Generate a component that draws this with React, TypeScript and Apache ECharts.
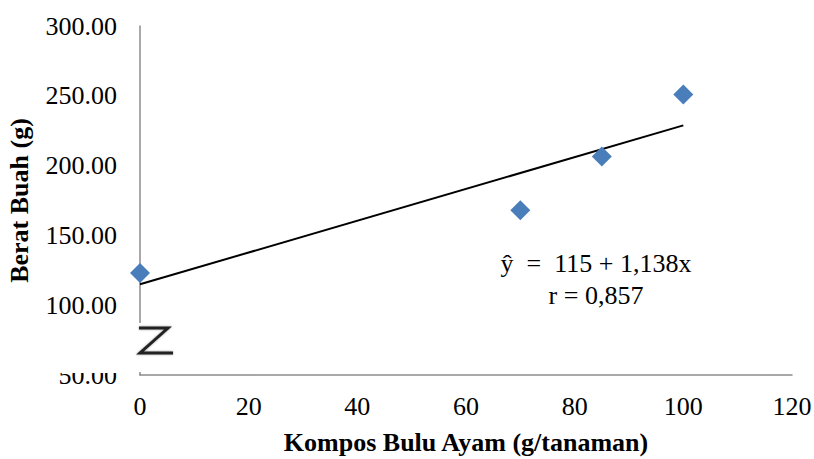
import React, { useEffect, useRef } from "react";
import * as echarts from "echarts";

const doses = [0, 70, 85, 100];
const weights = [123, 168, 206.5, 251];
const intercept = 115;
const slope = 1.138;
const trendX = [0, 100];
const yTicks = { min: 50, max: 300, interval: 50 };
const xTicks = { min: 0, max: 120, interval: 20 };
const equationText = "ŷ\u00a0\u00a0=\u00a0\u00a0115 + 1,138x";
const rText = "r = 0,857";

const FONT = "Liberation Serif";

export default function App() {
  const ref = useRef<HTMLDivElement>(null);
  useEffect(() => {
    if (!ref.current) return;
    const chart = echarts.init(ref.current, undefined, { renderer: "svg" });
    const trend = trendX.map((x) => [x, +(intercept + slope * x).toFixed(3)]);
    chart.setOption({
      animation: false,
      backgroundColor: "#ffffff",
      textStyle: { fontFamily: FONT },
      grid: { left: 140, right: 22, top: 26, bottom: 84, containLabel: false, outerBoundsMode: "none" },
      xAxis: {
        type: "value",
        min: xTicks.min,
        max: xTicks.max,
        interval: xTicks.interval,
        name: "Kompos Bulu Ayam (g/tanaman)",
        nameLocation: "middle",
        nameGap: 54,
        nameTextStyle: { fontFamily: FONT, fontSize: 26, fontWeight: "bold", color: "#000" },
        axisLine: { show: true, lineStyle: { color: "#8c8c8c", width: 1.5 } },
        axisTick: { show: false },
        splitLine: { show: false },
        axisLabel: { fontFamily: FONT, fontSize: 26, color: "#000", margin: 18 },
      },
      yAxis: {
        type: "value",
        min: yTicks.min,
        max: yTicks.max,
        interval: yTicks.interval,
        name: "Berat Buah (g)",
        nameLocation: "middle",
        nameGap: 108,
        nameTextStyle: { fontFamily: FONT, fontSize: 26, fontWeight: "bold", color: "#000" },
        axisLine: { show: true, lineStyle: { color: "#8c8c8c", width: 1.5 } },
        axisTick: { show: false },
        splitLine: { show: false },
        axisLabel: {
          fontFamily: FONT,
          fontSize: 26,
          color: "#000",
          margin: 23,
          formatter: (v: number) => v.toFixed(2),
        },
      },
      series: [
        {
          type: "line",
          data: trend,
          symbol: "none",
          lineStyle: { color: "#000", width: 2 },
          z: 2,
        },
        {
          type: "scatter",
          data: doses.map((d, i) => [d, weights[i]]),
          symbol: "diamond",
          symbolSize: [20, 20],
          itemStyle: { color: "#4a7ebb", opacity: 1 },
          z: 3,
        },
      ],
      graphic: [
        { type: "rect", z: 100, shape: { x: 30, y: 345, width: 104, height: 28 }, style: { fill: "#fff" } },
        { type: "rect", z: 100, shape: { x: 132, y: 323, width: 18, height: 49 }, style: { fill: "#fff" } },
        {
          type: "polyline",
          z: 101,
          shape: { points: [[139, 328], [168, 328], [140, 353], [173, 353]] },
          style: { stroke: "#222", lineWidth: 3, fill: "none", shadowBlur: 2, shadowColor: "rgba(0,0,0,0.4)" },
        },
        {
          type: "text",
          z: 100,
          x: 596,
          y: 263,
          style: { text: equationText, fontFamily: FONT, fontSize: 26, fill: "#000", align: "center", verticalAlign: "middle" },
        },
        {
          type: "text",
          z: 100,
          x: 596,
          y: 295,
          style: { text: rText, fontFamily: FONT, fontSize: 26, fill: "#000", align: "center", verticalAlign: "middle" },
        },
      ],
    });
    return () => chart.dispose();
  }, []);
  return <div ref={ref} style={{ width: 814, height: 459, position: "fixed", left: 0, top: 0 }} />;
}
